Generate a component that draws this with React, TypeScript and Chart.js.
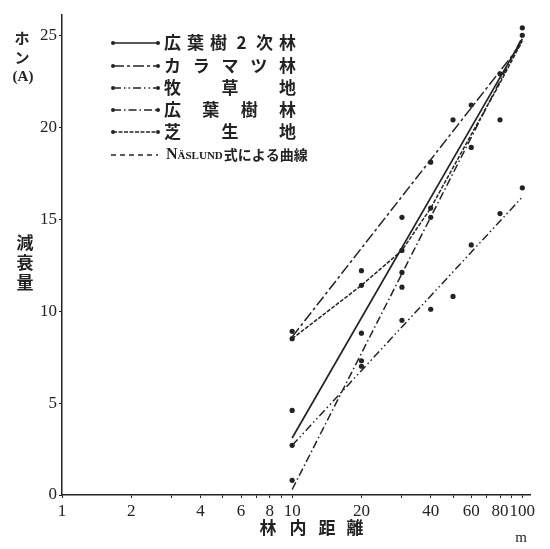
import React, { useEffect, useRef } from 'react';
import { Chart, registerables } from 'chart.js';

Chart.register(...registerables);

// ---- data ----
const xTickValues = [1, 2, 3, 4, 5, 6, 7, 8, 9, 10, 20, 30, 40, 50, 60, 70, 80, 90, 100];
const xTickLabels = [1, 2, 4, 6, 8, 10, 20, 40, 60, 80, 100];
const yTickValues = [0, 5, 10, 15, 20, 25];

const distances = [10, 20, 30, 40, 50, 60, 80, 100];
const hiroha2Dots = [4.6, 8.8, 12.1, 15.6, null, 18.9, null, 25.0];
const karamatsuDots = [8.9, 12.2, 15.1, 18.1, 20.4, 21.2, 22.9, 25.4];
const bokusouDots = [2.7, 7.0, 9.5, 10.1, 10.8, 13.6, 15.3, 16.7];
const hirohaDots = [0.8, 7.3, 11.3, 15.1, null, null, 20.4, null];
const shibaDots = [8.5, 11.4, 13.3, null, null, null, null, null];

const fitDistances = [10, 100];
const hiroha2Fit = [3.1, 24.8];
const karamatsuFit = [8.6, 24.6];
const bokusouFit = [2.7, 16.2];
const hirohaFit = [0.3, 24.9];

const curveDistances = [10, 20, 30, 40, 60, 80, 100];
const naslundCurve = [8.5, 11.4, 13.3, 15.6, 19.6, 22.4, 24.7];

const legendNames = ['広葉樹2次林', 'カラマツ林', '牧草地', '広葉樹林', '芝生地'];
const naslundName = 'NÄSLUND式による曲線';
const yTitleTop = ['ホ', 'ン'];
const yTitleUnit = '(A)';
const yTitle = ['減', '衰', '量'];
const xTitle = ['林', '内', '距', '離'];
const xUnit = 'm';

const INK = '#232323';
const dashes: number[][] = [[], [11, 3, 3, 3], [8, 3, 1.5, 3, 1.5, 3], [8, 3, 1.5, 3], [4, 1.5]];
const naslundDash = [5, 4];

const toPts = (xs: number[], ys: (number | null)[]) =>
  xs.map((x, i) => ({ x, y: ys[i] })).filter((p) => p.y !== null);

const CJK = '"Noto Sans CJK JP", sans-serif';
const SERIF = '"Liberation Serif", "DejaVu Serif", serif';

const textPlugin = {
  id: 'textPlugin',
  afterDraw(chart: any) {
    const ctx = chart.ctx as CanvasRenderingContext2D;
    ctx.save();
    ctx.fillStyle = INK;
    ctx.strokeStyle = INK;
    ctx.textBaseline = 'middle';
    ctx.textAlign = 'center';

    // y title top: ホン (A)
    ctx.font = `bold 15px ${CJK}`;
    yTitleTop.forEach((c, i) => ctx.fillText(c, 22, 38 + i * 19));
    ctx.font = `bold 15px ${SERIF}`;
    ctx.fillText(yTitleUnit, 23, 77);

    // y title: 減衰量
    ctx.font = `bold 17px ${CJK}`;
    yTitle.forEach((c, i) => ctx.fillText(c, 25, 243 + i * 20));

    // x title
    ctx.font = `bold 17px ${CJK}`;
    const xs = [268, 298, 327, 355];
    xTitle.forEach((c, i) => ctx.fillText(c, xs[i], 528));
    ctx.font = `15px ${SERIF}`;
    ctx.fillText(xUnit, 521, 538);

    // legend
    const rowY = [43, 66, 88, 110, 132, 155];
    const lx0 = 113;
    const lx1 = 158;
    const tx0 = 164;
    const tx1 = 296;
    for (let i = 0; i < legendNames.length; i++) {
      const y = rowY[i];
      ctx.lineWidth = 1.6;
      ctx.setLineDash(dashes[i]);
      ctx.beginPath();
      ctx.moveTo(lx0, y);
      ctx.lineTo(lx1, y);
      ctx.stroke();
      ctx.setLineDash([]);
      ctx.beginPath();
      ctx.arc(lx0, y, 2, 0, Math.PI * 2);
      ctx.arc(lx1, y, 2, 0, Math.PI * 2);
      ctx.fill();
      const chars = Array.from(legendNames[i]);
      ctx.font = `bold 17px ${CJK}`;
      const cw = 17;
      const step = (tx1 - tx0 - cw) / (chars.length - 1);
      ctx.textAlign = 'center';
      chars.forEach((c, k) => ctx.fillText(c, tx0 + cw / 2 + k * step, y));
    }
    // naslund legend row
    {
      const y = rowY[5];
      ctx.lineWidth = 1.4;
      ctx.setLineDash(naslundDash);
      ctx.beginPath();
      ctx.moveTo(lx0 - 2, y);
      ctx.lineTo(lx1, y);
      ctx.stroke();
      ctx.setLineDash([]);
      ctx.textAlign = 'left';
      let x = tx0 + 2;
      ctx.font = `bold 16px ${SERIF}`;
      ctx.fillText('N', x, y);
      x += ctx.measureText('N').width;
      ctx.font = `bold 11px ${SERIF}`;
      ctx.fillText('ÄSLUND', x, y + 1);
      x += ctx.measureText('ÄSLUND').width + 1;
      ctx.font = `bold 14px ${CJK}`;
      ctx.fillText('式による曲線', x, y);
    }
    ctx.restore();
  },
};

export default function App() {
  const ref = useRef<HTMLCanvasElement | null>(null);

  useEffect(() => {
    document.body.style.margin = '0';
    const canvas = ref.current;
    if (!canvas) return;

    const lineDs = (xs: number[], ys: number[], dash: number[], w = 1.5) => ({
      data: toPts(xs, ys),
      showLine: true,
      borderColor: INK,
      borderWidth: w,
      borderDash: dash,
      pointRadius: 0,
      tension: 0,
      fill: false,
    });
    const dotDs = (ys: (number | null)[]) => ({
      data: toPts(distances, ys),
      showLine: false,
      pointRadius: 2.6,
      pointBackgroundColor: INK,
      pointBorderWidth: 0,
      backgroundColor: INK,
      borderColor: INK,
    });

    const chart = new Chart(canvas, {
      type: 'scatter',
      data: {
        datasets: [
          lineDs(fitDistances, hiroha2Fit, dashes[0], 1.7),
          lineDs(fitDistances, karamatsuFit, dashes[1]),
          lineDs(fitDistances, bokusouFit, dashes[2]),
          lineDs(fitDistances, hirohaFit, dashes[3]),
          lineDs(curveDistances, naslundCurve, dashes[4]),
          dotDs(hiroha2Dots),
          dotDs(karamatsuDots),
          dotDs(bokusouDots),
          dotDs(hirohaDots),
          dotDs(shibaDots),
        ] as any,
      },
      options: {
        animation: false,
        responsive: true,
        maintainAspectRatio: false,
        layout: { padding: { top: 15, right: 20, left: 0, bottom: 0 } },
        plugins: { legend: { display: false }, tooltip: { enabled: false } },
        scales: {
          x: {
            type: 'logarithmic',
            min: 1,
            max: 108,
            border: { display: true, color: INK, width: 1.5 },
            grid: { drawOnChartArea: false, drawTicks: true, tickLength: 3, color: INK },
            ticks: {
              autoSkip: false,
              maxRotation: 0,
              padding: 3,
              color: INK,
              font: { family: SERIF, size: 17 },
              callback: (v: any) => (xTickLabels.includes(Number(v)) ? String(v) : ''),
            },
            afterBuildTicks: (s: any) => {
              s.ticks = xTickValues.map((v) => ({ value: v }));
            },
            afterFit: (s: any) => {
              s.height = 54;
            },
          },
          y: {
            type: 'linear',
            min: 0,
            max: 26.1,
            border: { display: true, color: INK, width: 1.5 },
            grid: { drawOnChartArea: false, drawTicks: true, tickLength: 3, color: INK },
            ticks: {
              padding: 2,
              color: INK,
              font: { family: SERIF, size: 17 },
            },
            afterBuildTicks: (s: any) => {
              s.ticks = yTickValues.map((v) => ({ value: v }));
            },
            afterFit: (s: any) => {
              s.width = 62;
            },
          },
        },
      } as any,
      plugins: [textPlugin],
    });
    return () => chart.destroy();
  }, []);

  return (
    <div style={{ width: 550, height: 549, position: 'relative', background: '#fff' }}>
      <canvas ref={ref} />
    </div>
  );
}
